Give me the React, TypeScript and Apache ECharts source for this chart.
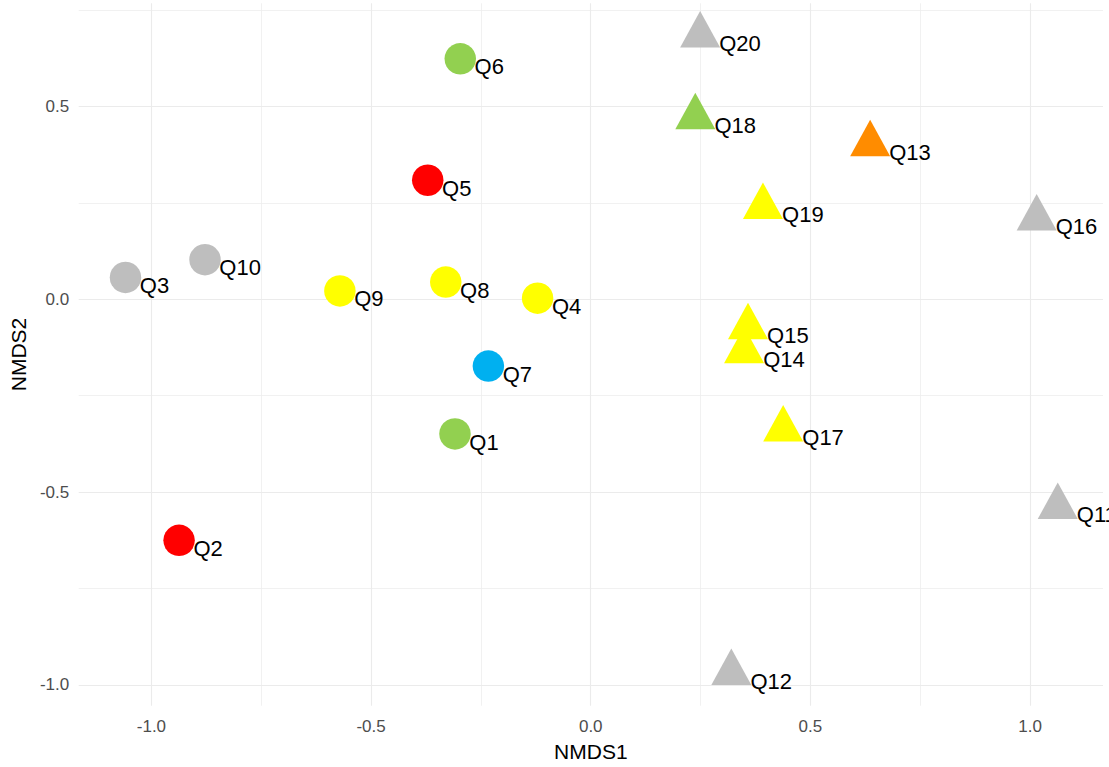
import React, { useEffect, useRef } from 'react';
import * as echarts from 'echarts';

// ---- data (NMDS scores) ----
const siteNames = ['Q1', 'Q2', 'Q3', 'Q4', 'Q5', 'Q6', 'Q7', 'Q8', 'Q9', 'Q10',
  'Q11', 'Q12', 'Q13', 'Q14', 'Q15', 'Q16', 'Q17', 'Q18', 'Q19', 'Q20'];
const nmds1 = [-0.309, -0.937, -1.059, -0.121, -0.371, -0.297, -0.233, -0.330, -0.571, -0.878,
  1.063, 0.320, 0.636, 0.349, 0.358, 1.015, 0.438, 0.238, 0.392, 0.249];
const nmds2 = [-0.349, -0.625, 0.057, 0.003, 0.309, 0.624, -0.173, 0.045, 0.022, 0.103,
  -0.538, -0.969, 0.403, -0.134, -0.072, 0.210, -0.337, 0.473, 0.240, 0.685];
const siteColorGroup = ['green', 'red', 'gray', 'yellow', 'red', 'green', 'blue', 'yellow', 'yellow', 'gray',
  'gray', 'gray', 'orange', 'yellow', 'yellow', 'gray', 'yellow', 'green', 'yellow', 'gray'];
const siteShape = ['circle', 'circle', 'circle', 'circle', 'circle', 'circle', 'circle', 'circle', 'circle', 'circle',
  'triangle', 'triangle', 'triangle', 'triangle', 'triangle', 'triangle', 'triangle', 'triangle', 'triangle', 'triangle'];

const xTickValues = [-1, -0.5, 0, 0.5, 1];
const yTickValues = [-1, -0.5, 0, 0.5];
const xMajorGrid = [-1, -0.5, 0, 0.5, 1];
const xMinorGrid = [-0.75, -0.25, 0.25, 0.75];
const yMajorGrid = [-1, -0.5, 0, 0.5];
const yMinorGrid = [-0.75, -0.25, 0.25, 0.75];
const xRange = [-1.1655, 1.166];
const yRange = [-1.054, 0.768];

const palette: Record<string, string> = {
  gray: '#BEBEBE',
  red: '#FF0000',
  green: '#92D050',
  yellow: '#FFFF00',
  blue: '#00B0F0',
  orange: '#FF8C00',
};

const FONT = "'Liberation Sans', Arial, Helvetica, sans-serif";

function fmt(v: number) {
  return Math.abs(v * 2 - Math.round(v * 2)) < 1e-6 ? v.toFixed(1) : '';
}

export default function App() {
  const ref = useRef<HTMLDivElement>(null);

  useEffect(() => {
    if (!ref.current) return;
    const chart = echarts.init(ref.current, null, { renderer: 'svg' });

    const pointsOf = (shape: string) =>
      siteNames
        .map((name, i) => ({ name, i }))
        .filter((d) => siteShape[d.i] === shape)
        .map(({ name, i }) => ({
          name,
          value: [nmds1[i], nmds2[i]],
          itemStyle: { color: palette[siteColorGroup[i]], opacity: 1 },
        }));

    const labelBase = {
      show: true,
      position: 'inside' as const,
      align: 'left' as const,
      verticalAlign: 'top' as const,
      color: '#000000',
      opacity: 1,
      fontSize: 22,
      fontFamily: FONT,
      textBorderWidth: 0,
      textBorderColor: 'transparent',
      formatter: (p: any) => p.name,
    };

    const major = { color: '#EBEBEB', width: 1.1, type: 'solid' as const, opacity: 1 };
    const minor = { color: '#EEEEEE', width: 0.8, type: 'solid' as const, opacity: 1 };

    const option: any = {
      animation: false,
      backgroundColor: '#FFFFFF',
      grid: { left: 77.7, right: 6, top: 3.3, bottom: 61.3, containLabel: false },
      xAxis: {
        type: 'value',
        min: xRange[0],
        max: xRange[1],
        name: 'NMDS1',
        nameLocation: 'middle',
        nameGap: 35,
        nameTextStyle: { color: '#000000', fontSize: 21, fontFamily: FONT },
        axisLine: { show: false, onZero: false },
        axisTick: { show: false },
        splitLine: { show: false },
        axisLabel: {
          customValues: xTickValues,
          formatter: fmt,
          color: '#4D4D4D',
          fontSize: 17,
          fontFamily: FONT,
          margin: 12,
        },
      },
      yAxis: {
        type: 'value',
        min: yRange[0],
        max: yRange[1],
        name: 'NMDS2',
        nameLocation: 'middle',
        nameGap: 47,
        nameTextStyle: { color: '#000000', fontSize: 21, fontFamily: FONT },
        axisLine: { show: false, onZero: false },
        axisTick: { show: false },
        splitLine: { show: false },
        axisLabel: {
          customValues: yTickValues,
          formatter: fmt,
          color: '#4D4D4D',
          fontSize: 17,
          fontFamily: FONT,
          margin: 9.5,
          padding: [4, 0, 0, 0],
        },
      },
      series: [
        {
          type: 'scatter',
          name: 'grid',
          data: [],
          z: 0,
          silent: true,
          markLine: {
            z: 0,
            zlevel: 0,
            silent: true,
            animation: false,
            symbol: ['none', 'none'],
            label: { show: false },
            emphasis: { disabled: true },
            data: [
              ...xMinorGrid.map((v) => ({ xAxis: v, lineStyle: minor })),
              ...yMinorGrid.map((v) => ({ yAxis: v, lineStyle: minor })),
              ...xMajorGrid.map((v) => ({ xAxis: v, lineStyle: major })),
              ...yMajorGrid.map((v) => ({ yAxis: v, lineStyle: major })),
            ],
          },
        },
        {
          type: 'scatter',
          name: 'circles',
          z: 10,
          symbol: 'circle',
          symbolSize: 31.5,
          itemStyle: { opacity: 1 },
          emphasis: { disabled: true },
          data: pointsOf('circle'),
          label: { ...labelBase, offset: [14.3, -2.9] },
        },
        {
          type: 'scatter',
          name: 'triangles',
          z: 10,
          symbol: 'triangle',
          symbolSize: [40, 36.5],
          symbolOffset: [0, -6.1],
          itemStyle: { opacity: 1 },
          emphasis: { disabled: true },
          data: pointsOf('triangle'),
          label: { ...labelBase, offset: [19.1, 3.2] },
        },
      ],
    };

    chart.setOption(option);
    return () => chart.dispose();
  }, []);

  return (
    <div
      ref={ref}
      style={{ position: 'fixed', left: 0, top: 0, width: 1109, height: 767, background: '#fff' }}
    />
  );
}
